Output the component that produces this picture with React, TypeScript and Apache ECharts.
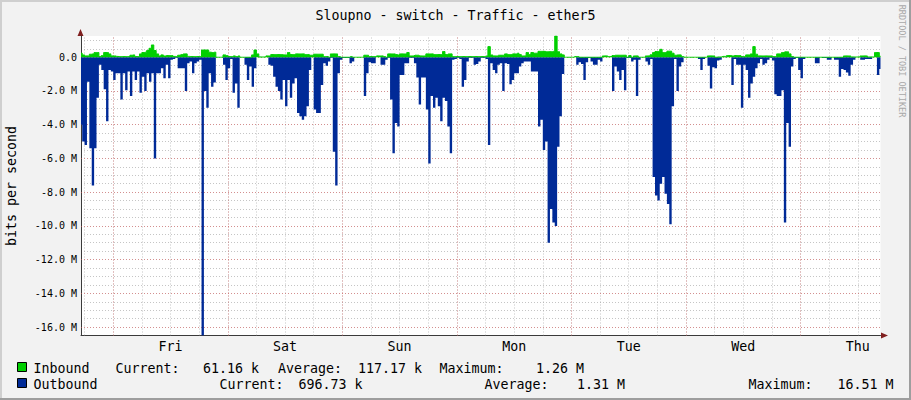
import React, { useEffect, useRef } from 'react';
import * as echarts from 'echarts';

// ---------- texts ----------
const TITLE = 'Sloupno - switch - Traffic - ether5';
const UNIT_LABEL = 'bits per second';
const WATERMARK = 'RRDTOOL / TOBI OETIKER';
const DAY_LABELS = ['Fri', 'Sat', 'Sun', 'Mon', 'Tue', 'Wed', 'Thu'];

// ---------- time layout (hours from the left edge of the graph, 30 min steps) ----------
const STEP_HOURS = 0.5;
const FIRST_MIDNIGHT_H = 6.75;
const SPAN_H = 167.5;

// ---------- value axis ----------
const Y_MIN = -16.5e6;
const Y_MAX = 1.26e6;
const Y_MINOR = 0.5e6;
const Y_MAJOR_LINES = [0, -2e6, -4e6, -6e6, -8e6, -10e6, -12e6, -14e6, -16e6];

// ---------- outbound traffic, Mbit/s (drawn below zero) ----------
const OUT_THU_START = [4.0, 5.0, 5.2, 1.45, 5.4, 7.6, 5.4, 2.4, 0.45, 0.75, 1.9, 3.8, 0.75, 0.85];
const OUT_FRI = [
  1.35, 0.95, 0.95, 2.5, 0.95, 1.95, 0.85, 2.3, 0.85, 1.35,
  0.85, 2.1, 1.15, 2.0, 0.95, 1.45, 0.95, 6.0, 0.95, 0.95,
  0.65, 1.25, 0.45, 1.25, 0.15, 0.1, 0.05, 0.65, 0.65, 0.65,
  2.0, 0.35, 0.25, 0.95, 0.35, 0.25, 0.15, 16.51, 2.0, 3.0,
  0.95, 1.75, 1.5, 0, 0, 0, 0.45, 1.35,
];
const OUT_SAT = [
  0.65, 0.1, 2.1, 1.55, 3.0, 0, 0, 0.45, 1.35, 0.55,
  1.75, 0.65, 0, 0, 0, 0, 0, 0.45, 0.5, 1.15,
  1.75, 2.0, 2.5, 1.35, 2.9, 1.35, 2.4, 1.55, 1.25, 3.3,
  3.5, 3.7, 3.5, 2.9, 0.75, 0, 3.1, 3.3, 3.3, 1.65,
  0.35, 0.5, 0.25, 0.05, 5.6, 7.6, 0.95, 0.15,
];
const OUT_SUN = [
  0.05, 0.05, 0.05, 0.35, 0.25, 0, 0, 0, 0, 2.3,
  0.95, 0.3, 0.35, 0.35, 0, 0, 0.45, 0.45, 0.15, 0.05,
  2.5, 5.7, 3.9, 4.1, 1.05, 1.05, 0.35, 0.35, 0.05, 0.05,
  0.35, 1.2, 2.8, 1.2, 1.2, 3.1, 6.3, 2.3, 3.0, 2.4,
  2.9, 3.8, 2.4, 2.6, 4.1, 5.7, 0.15, 0.1,
];
const OUT_MON = [
  0.05, 0.1, 1.75, 1.35, 0.25, 0.05, 0.05, 0.45, 0.4, 0.25,
  0.05, 0.05, 0.1, 5.2, 0.35, 0.75, 0.95, 0.45, 0.35, 2.0,
  0.35, 0.4, 1.6, 1.35, 0.95, 0.95, 0.55, 0.35, 0.25, 0.25,
  0.25, 0.85, 0.85, 0.85, 4.1, 3.7, 5.5, 5.0, 11.0, 9.0,
  9.8, 10.0, 5.3, 3.5, 1.0, 0, 0, 0,
];
const OUT_TUE = [
  0, 0, 0.45, 0.3, 0.4, 1.35, 0.3, 0.05, 0.25, 0.45,
  0.45, 0.15, 0.25, 0, 0, 0, 0, 2.0, 0.55, 0.85,
  1.35, 0.75, 1.95, 0.05, 0.05, 0.25, 0.15, 2.3, 0.15, 0,
  0, 0.25, 0.45, 0.1, 7.1, 8.2, 8.5, 7.5, 7.1, 8.1,
  8.7, 9.9, 2.9, 0.1, 2.0, 0.55, 0.3, 0,
];
const OUT_WED = [
  0, 0, 0, 0, 0, 0.1, 0.75, 0.1, 0, 0.5,
  1.85, 0.6, 0.65, 0.2, 0.15, 0, 0.02, 0, 0, 1.65,
  0.1, 0.45, 0.45, 3.0, 0.45, 0.75, 2.4, 1.55, 1.15, 0.65,
  0.35, 0.1, 0.45, 0.35, 0.15, 0.05, 0.2, 2.2, 2.3, 2.3,
  1.95, 9.8, 3.9, 5.3, 0.55, 0.1, 0.05, 0.75,
];
const OUT_THU_END = [
  1.25, 0.1, 0, 0, 0, 0, 0.35, 0.35, 0, 0.05,
  0.05, 0.15, 0.15, 0, 0.15, 0.15, 1.15, 0.7, 0.75, 0.9,
  1.1, 0.45, 0.15, 0, 0, 0.15, 0.15, 0.1, 0.1, 0.1,
  0, 0, 1.05, 0.7,
];

// ---------- inbound traffic, Mbit/s (drawn above zero) ----------
const IN_THU_START = [0.24, 0.14, 0.08, 0.08, 0.18, 0.2, 0.28, 0.28, 0.04, 0.1, 0.28, 0.28, 0.2, 0.08];
const IN_FRI = [
  0.08, 0.05, 0.04, 0.04, 0.04, 0.04, 0.04, 0.12, 0.14, 0.04,
  0.04, 0.2, 0.28, 0.3, 0.4, 0.53, 0.73, 0.4, 0.2, 0.08,
  0.14, 0.08, 0.1, 0.1, 0.1, 0.05, 0.04, 0.12, 0.16, 0.2,
  0.2, 0.05, 0.04, 0.04, 0.04, 0.04, 0.04, 0.43, 0.43, 0.43,
  0.3, 0.28, 0.3, 0, 0, 0, 0.14, 0.1,
];
const IN_SAT = [
  0.04, 0.04, 0.08, 0.04, 0.08, 0, 0, 0, 0, 0,
  0.14, 0.43, 0.2, 0.02, 0.02, 0.02, 0.08, 0.08, 0.16, 0.16,
  0.16, 0.16, 0.16, 0.14, 0.14, 0.28, 0.16, 0.16, 0.2, 0.2,
  0.2, 0.2, 0.16, 0.16, 0.12, 0.12, 0.18, 0.18, 0.18, 0.18,
  0.04, 0.04, 0, 0.2, 0.2, 0.2, 0.04, 0,
];
const IN_SUN = [
  0, 0, 0, 0.04, 0, 0, 0, 0, 0, 0.12,
  0.12, 0.04, 0.04, 0.04, 0.08, 0.08, 0.08, 0.04, 0, 0.2,
  0.2, 0.2, 0.16, 0.14, 0.2, 0.2, 0.2, 0.28, 0.08, 0.08,
  0.12, 0.12, 0.08, 0.08, 0.08, 0.2, 0.2, 0.2, 0.16, 0.16,
  0.16, 0.16, 0.34, 0.16, 0.2, 0.2, 0.04, 0.04,
];
const IN_MON = [
  0.04, 0.04, 0.04, 0.04, 0.04, 0.04, 0.04, 0.04, 0.04, 0.04,
  0.04, 0.04, 0.08, 0.63, 0.14, 0.08, 0.08, 0.12, 0.12, 0.12,
  0.2, 0.16, 0.16, 0.2, 0.2, 0.24, 0.16, 0.08, 0.08, 0.28,
  0.16, 0.28, 0.24, 0.24, 0.35, 0.35, 0.35, 0.33, 0.33, 0.33,
  0.35, 1.26, 0.33, 0.2, 0.14, 0, 0, 0,
];
const IN_TUE = [
  0, 0.04, 0.04, 0, 0, 0, 0, 0, 0, 0,
  0, 0, 0, 0.08, 0.08, 0.04, 0.04, 0.1, 0.12, 0.12,
  0.12, 0.12, 0.12, 0, 0.1, 0, 0.08, 0.08, 0, 0,
  0, 0.08, 0.08, 0.15, 0.28, 0.34, 0.34, 0.47, 0.28, 0.28,
  0.36, 0.36, 0.24, 0.12, 0.14, 0.14, 0.04, 0,
];
const IN_WED = [
  0, 0, 0, 0, 0, 0, 0, 0, 0, 0.08,
  0.08, 0.08, 0, 0.02, 0.02, 0.05, 0.05, 0.1, 0.1, 0.08,
  0.1, 0.1, 0.1, 0.04, 0.04, 0.14, 0.14, 0.2, 0.63, 0.18,
  0.08, 0.08, 0.08, 0.08, 0.08, 0.08, 0.04, 0.04, 0.2, 0.2,
  0.28, 0.32, 0.32, 0.2, 0.04, 0, 0, 0,
];
const IN_THU_END = [
  0, 0, 0, 0, 0, 0, 0, 0, 0, 0,
  0, 0, 0, 0, 0, 0, 0, 0, 0.08, 0.08,
  0.08, 0.02, 0.02, 0.02, 0.02, 0.08, 0.08, 0.08, 0.02, 0.02,
  0.02, 0.28, 0.28, 0.06,
];

// ---------- legend ----------
const IN_NAME = 'Inbound';
const OUT_NAME = 'Outbound';
const IN_STATS = ['Current:', '61.16 k', 'Average:', '117.17 k', 'Maximum:', '1.26 M'];
const OUT_STATS = ['Current:', '696.73 k', 'Average:', '1.31 M', 'Maximum:', '16.51 M'];

// ---------- styles ----------
const C_BACK = '#F2F2F2';
const C_IN = '#00CF00';
const C_OUT = '#002A97';
const C_GRID = 'rgba(150,150,150,0.55)';
const C_MGRID = 'rgba(225,90,90,0.5)';
const C_AXIS = '#3a3a3a';
const C_ARROW = '#801F1F';
const FONT = 'DejaVu Sans Mono';

export default function App() {
  const ref = useRef<HTMLDivElement>(null);

  useEffect(() => {
    const el = ref.current;
    if (!el) return;
    const chart = echarts.init(el, null, { renderer: 'svg' });

    const outbound = [...OUT_THU_START, ...OUT_FRI, ...OUT_SAT, ...OUT_SUN, ...OUT_MON, ...OUT_TUE, ...OUT_WED, ...OUT_THU_END];
    const inbound = [...IN_THU_START, ...IN_FRI, ...IN_SAT, ...IN_SUN, ...IN_MON, ...IN_TUE, ...IN_WED, ...IN_THU_END];
    const outData = outbound.map((v, i) => [i * STEP_HOURS, -v * 1e6]);
    const inData = inbound.map((v, i) => [i * STEP_HOURS, v * 1e6]);

    const minorHours: number[] = [];
    for (let t = FIRST_MIDNIGHT_H - 6; t <= SPAN_H; t += 6) minorHours.push(t);
    const majorHours: number[] = [];
    for (let t = FIRST_MIDNIGHT_H; t <= SPAN_H; t += 24) majorHours.push(t);
    const labelHours = DAY_LABELS.map((_, k) => FIRST_MIDNIGHT_H + 12 + 24 * k);

    const dash = [1, 2];
    const gridLines = [
      ...minorHours.map((t) => ({ xAxis: t, lineStyle: { color: C_GRID, width: 1, type: dash } })),
      ...majorHours.map((t) => ({ xAxis: t, lineStyle: { color: C_MGRID, width: 1, type: dash } })),
      ...Y_MAJOR_LINES.map((v) => ({ yAxis: v, lineStyle: { color: C_MGRID, width: 1, type: dash } })),
    ];

    const legendText = (text: string, x: number, y: number) => ({
      type: 'text',
      x,
      y,
      silent: true,
      style: { text, font: `13.3px '${FONT}'`, fill: '#000', align: 'left', verticalAlign: 'middle' },
    });
    const inX = [115.5, 203, 278, 358, 439.5, 536];
    const outX = [219.5, 298.5, 484.5, 577, 748.5, 837.5];

    const option: any = {
      animation: false,
      backgroundColor: C_BACK,
      grid: {
        left: 81,
        top: 36,
        right: 30.5,
        bottom: 64.5,
        show: true,
        backgroundColor: '#FFFFFF',
        borderWidth: 0,
      },
      xAxis: {
        type: 'value',
        min: 0,
        max: SPAN_H,
        axisLine: { show: true, onZero: false, lineStyle: { color: C_AXIS, width: 1 } },
        axisTick: { show: false },
        splitLine: { show: false },
        axisLabel: {
          show: true,
          customValues: labelHours,
          margin: 4,
          color: '#000',
          fontFamily: FONT,
          fontSize: 13.3,
          formatter: (v: number) => {
            const k = Math.round((v - FIRST_MIDNIGHT_H - 12) / 24);
            const ok = Math.abs(v - (FIRST_MIDNIGHT_H + 12 + 24 * k)) < 1e-6;
            return ok && DAY_LABELS[k] ? DAY_LABELS[k] : '';
          },
        },
      },
      yAxis: {
        type: 'value',
        min: Y_MIN,
        max: Y_MAX,
        interval: Y_MINOR,
        axisLine: { show: true, onZero: false, lineStyle: { color: C_AXIS, width: 1 } },
        axisTick: { show: false },
        splitLine: {
          show: true,
          showMinLine: false,
          showMaxLine: false,
          lineStyle: { color: C_GRID, width: 1, type: dash },
        },
        axisLabel: {
          margin: 4,
          color: '#000',
          fontFamily: FONT,
          fontSize: 10,
          showMaxLabel: false,
          formatter: (v: number) => {
            const m = v / 1e6;
            if (Math.abs(m) < 1e-9) return '0.0';
            if (Math.abs(m / 2 - Math.round(m / 2)) < 1e-9) return `${m.toFixed(1)} M`;
            return '';
          },
        },
      },
      series: [
        {
          name: 'grid',
          type: 'line',
          data: [],
          silent: true,
          z: 1,
          markLine: {
            silent: true,
            symbol: ['none', 'none'],
            animation: false,
            label: { show: false },
            emphasis: { disabled: true },
            data: gridLines,
          },
        },
        {
          name: OUT_NAME,
          type: 'line',
          data: outData,
          step: 'middle',
          symbol: 'none',
          z: 6,
          silent: true,
          lineStyle: { width: 0, color: C_OUT },
          areaStyle: { color: C_OUT, opacity: 1 },
        },
        {
          name: IN_NAME,
          type: 'line',
          data: inData,
          step: 'middle',
          symbol: 'none',
          z: 7,
          silent: true,
          lineStyle: { width: 1, color: C_IN },
          areaStyle: { color: C_IN, opacity: 1 },
        },
      ],
      graphic: [
        // 3D frame
        { type: 'rect', silent: true, shape: { x: 0, y: 0, width: 911, height: 2 }, style: { fill: '#CFCFCF' } },
        { type: 'rect', silent: true, shape: { x: 0, y: 0, width: 2, height: 400 }, style: { fill: '#CFCFCF' } },
        { type: 'rect', silent: true, shape: { x: 909, y: 0, width: 2, height: 400 }, style: { fill: '#9E9E9E' } },
        { type: 'rect', silent: true, shape: { x: 0, y: 398, width: 911, height: 2 }, style: { fill: '#9E9E9E' } },
        // title
        {
          type: 'text',
          x: 455.5,
          y: 15,
          silent: true,
          style: { text: TITLE, font: `13.3px '${FONT}'`, fill: '#000', align: 'center', verticalAlign: 'middle' },
        },
        // vertical unit label
        {
          type: 'text',
          x: 11,
          y: 186,
          rotation: Math.PI / 2,
          silent: true,
          style: { text: UNIT_LABEL, font: `13.3px '${FONT}'`, fill: '#000', align: 'center', verticalAlign: 'middle' },
        },
        // watermark
        {
          type: 'text',
          x: 902,
          y: 61,
          rotation: -Math.PI / 2,
          silent: true,
          style: { text: WATERMARK, font: `8.5px '${FONT}'`, fill: '#A8A8A8', align: 'center', verticalAlign: 'middle' },
        },
        // axis arrows
        { type: 'polygon', silent: true, shape: { points: [[881, 332.5], [888, 335.5], [881, 338.5]] }, style: { fill: C_ARROW } },
        { type: 'polygon', silent: true, shape: { points: [[77.5, 36], [80.5, 29], [83.5, 36]] }, style: { fill: C_ARROW } },
        // legend
        { type: 'rect', silent: true, shape: { x: 17.5, y: 362.5, width: 9, height: 9 }, style: { fill: C_IN, stroke: '#000', lineWidth: 1 } },
        { type: 'rect', silent: true, shape: { x: 17.5, y: 378.5, width: 9, height: 9 }, style: { fill: C_OUT, stroke: '#000', lineWidth: 1 } },
        legendText(IN_NAME, 33.5, 368),
        legendText(OUT_NAME, 33.5, 384),
        ...IN_STATS.map((s, k) => legendText(s, inX[k], 368)),
        ...OUT_STATS.map((s, k) => legendText(s, outX[k], 384)),
      ],
    };

    chart.setOption(option);
    return () => chart.dispose();
  }, []);

  return (
    <div style={{ position: 'absolute', left: 0, top: 0, width: 911, height: 400, background: C_BACK }}>
      <div ref={ref} style={{ width: 911, height: 400 }} />
    </div>
  );
}
